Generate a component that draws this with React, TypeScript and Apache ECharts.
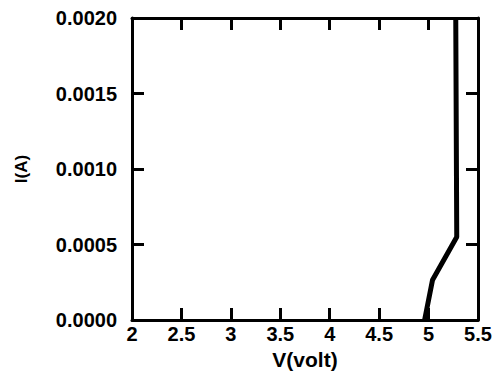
import React, { useEffect, useRef } from "react";
import * as echarts from "echarts";

const voltage = [4.96, 5.04, 5.285, 5.275];
const current = [0, 0.000265, 0.00055, 0.002];
const xTicks = [2, 2.5, 3, 3.5, 4, 4.5, 5, 5.5];
const yTicks = [0, 0.0005, 0.001, 0.0015, 0.002];

export default function App() {
  const ref = useRef<HTMLDivElement>(null);
  useEffect(() => {
    if (!ref.current) return;
    const chart = echarts.init(ref.current, null, { renderer: "svg" });
    const font = { fontFamily: "Liberation Sans", fontWeight: "bold" as const, color: "#000" };
    const axisLine = { show: true, onZero: false, lineStyle: { color: "#000", width: 3 } };
    const axisTick = { show: true, inside: true, length: 12, lineStyle: { color: "#000", width: 3 } };
    chart.setOption({
      animation: false,
      grid: { left: 132, right: 22, top: 18, bottom: 60 },
      xAxis: [
        {
          type: "value",
          position: "bottom",
          min: xTicks[0],
          max: xTicks[xTicks.length - 1],
          interval: 0.5,
          name: "V(volt)",
          nameLocation: "middle",
          nameGap: 29,
          nameTextStyle: { ...font, fontSize: 21 },
          axisLine,
          axisTick,
          splitLine: { show: false },
          axisLabel: { ...font, fontSize: 20, margin: 4, formatter: (v: number) => String(v) },
        },
        {
          type: "value",
          position: "top",
          min: xTicks[0],
          max: xTicks[xTicks.length - 1],
          interval: 0.5,
          axisLine,
          axisTick,
          splitLine: { show: false },
          axisLabel: { show: false },
        },
      ],
      yAxis: [
        {
          type: "value",
          position: "left",
          min: yTicks[0],
          max: yTicks[yTicks.length - 1],
          interval: 0.0005,
          name: "I(A)",
          nameLocation: "middle",
          nameGap: 102,
          nameTextStyle: { ...font, fontSize: 17 },
          axisLine,
          axisTick,
          splitLine: { show: false },
          axisLabel: { ...font, fontSize: 20, margin: 15, formatter: (v: number) => v.toFixed(4) },
        },
        {
          type: "value",
          position: "right",
          min: yTicks[0],
          max: yTicks[yTicks.length - 1],
          interval: 0.0005,
          axisLine,
          axisTick,
          splitLine: { show: false },
          axisLabel: { show: false },
        },
      ],
      series: [
        {
          type: "line",
          data: voltage.map((v, i) => [v, current[i]]),
          showSymbol: false,
          lineStyle: { color: "#000", width: 5 },
          clip: true,
        },
      ],
    });
    return () => chart.dispose();
  }, []);
  return <div ref={ref} style={{ position: "absolute", left: 0, top: 0, width: 500, height: 380 }} />;
}
